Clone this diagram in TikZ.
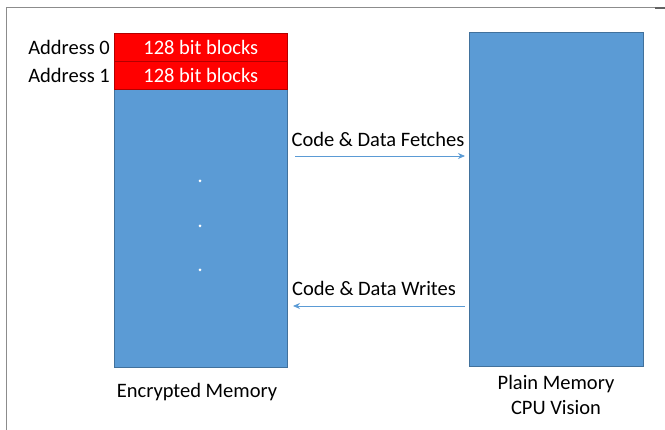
\documentclass[tikz,border=0pt]{standalone}
\usepackage{fontspec}
\setmainfont{Carlito}
\usetikzlibrary{arrows.meta}
\definecolor{mblue}{HTML}{5B9BD5}
\definecolor{mblueedge}{HTML}{41719C}
\definecolor{mred}{HTML}{FF0000}
\definecolor{frame}{HTML}{8C8C8C}
\tikzset{
  mem/.style={fill=mblue, draw=mblueedge, line width=0.6pt},
  blk/.style={fill=mred, draw=mred!70!black, line width=0.6pt, text=white, font=\fontsize{20.5}{24}\selectfont},
  lbl/.style={font=\fontsize{20.5}{24}\selectfont, inner sep=0pt},
  flow/.style={draw=mblue, line width=0.8pt, -{Stealth[length=7pt,width=6pt]}},
  dot/.style={circle, fill=white, inner sep=0pt, minimum size=3pt}
}
\begin{document}
\begin{tikzpicture}[x=1pt,y=-1pt]
\useasboundingbox (0,0) rectangle (665,430);
\draw[frame, line width=1pt] (6,430) -- (6,8) -- (657,8);
\draw[frame!70!black, line width=1.2pt] (655,8) -- (665,8);
% left memory
\node[mem, minimum width=173pt, minimum height=334pt, inner sep=0pt, anchor=north west] (enc) at (114,33) {};
\node[blk, minimum width=173pt, minimum height=28pt, inner sep=0pt, anchor=north west] (b0) at (114,33) {128 bit blocks};
\node[blk, minimum width=173pt, minimum height=28pt, inner sep=0pt, anchor=north west] (b1) at (114,61) {128 bit blocks};
\node[lbl, anchor=east] (a0) at (110,47) {Address 0};
\node[lbl, anchor=east] (a1) at (110,75) {Address 1};
\node[dot] (d1) at (200,181) {};
\node[dot] (d2) at (200,226) {};
\node[dot] (d3) at (200,270) {};
% right memory
\node[mem, minimum width=174pt, minimum height=334pt, inner sep=0pt, anchor=north west] (plain) at (469,32) {};
% arrows
\coordinate (f1) at (295,156);
\coordinate (f2) at (465,156);
\coordinate (w1) at (465,306);
\coordinate (w2) at (293,306);
\draw[flow] (f1) -- (f2);
\draw[flow] (w1) -- (w2);
\node[lbl] (lf) at (378,139) {Code \& Data Fetches};
\node[lbl] (lw) at (374,288) {Code \& Data Writes};
\node[lbl] (le) at (197,392) {Encrypted Memory};
\node[lbl, align=center, font=\fontsize{20.5}{25}\selectfont] (lp) at (556,395) {Plain Memory\\CPU Vision};
\end{tikzpicture}
\end{document}
